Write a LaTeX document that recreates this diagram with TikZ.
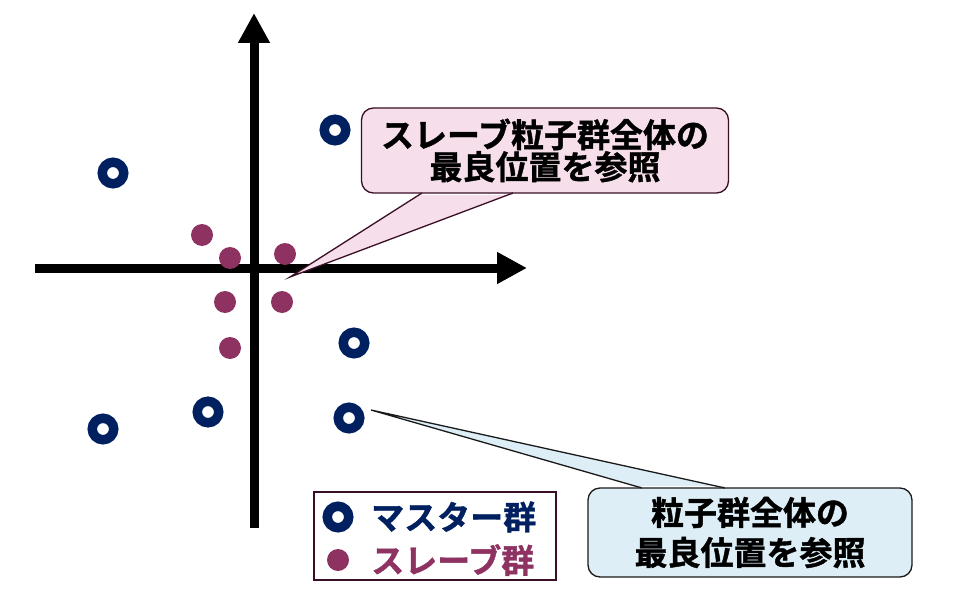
\documentclass[tikz,border=0pt]{standalone}
\usepackage{fontspec}
\newfontfamily\jp{Noto Sans CJK JP}[BoldFont={* Bold}, BoldFeatures={FakeBold=1.2}]
\usetikzlibrary{arrows.meta}
\definecolor{navy}{HTML}{002060}
\definecolor{maroon}{HTML}{8E3262}
\definecolor{pinkfill}{HTML}{F6DFEB}
\definecolor{pinkline}{HTML}{3A0F26}
\definecolor{bluefill}{HTML}{DEEEF6}
\definecolor{blueline}{HTML}{1A1A1A}
\tikzset{
  ring/.style={circle, draw=navy, line width=9.5pt, minimum size=21.5pt, inner sep=0pt},
  sdot/.style={circle, fill=maroon, minimum size=22pt, inner sep=0pt},
  axis/.style={line width=9pt, -{Triangle[length=30pt,width=30pt]}},
  jptext/.style={font=\jp\bfseries\fontsize{33pt}{33pt}\selectfont, align=center},
  callbox/.style={rounded corners=12pt, line width=1.3pt, inner sep=0pt, jptext},
}
\begin{document}
\begin{tikzpicture}[x=1pt,y=-1pt]
\useasboundingbox (0,0) rectangle (968,596);
% axes
\coordinate (xs) at (35,268);
\coordinate (xe) at (527,268);
\coordinate (ys) at (254,528);
\coordinate (ye) at (254,13);
\draw[axis] (xs) -- (xe);
\draw[axis] (ys) -- (ye);
% master rings
\node[ring] (m1) at (113,173) {};
\node[ring] (m2) at (335,130) {};
\node[ring] (m3) at (354,343) {};
\node[ring] (m4) at (208,412) {};
\node[ring] (m5) at (103,429) {};
\node[ring] (m6) at (349,418) {};
% slave dots
\node[sdot] (s1) at (202,235) {};
\node[sdot] (s2) at (230,258) {};
\node[sdot] (s3) at (285,254) {};
\node[sdot] (s4) at (225,302) {};
\node[sdot] (s5) at (282,302) {};
\node[sdot] (s6) at (230,348) {};
% pink callout
\node[callbox, fill=pinkfill, draw=pinkline, minimum width=367pt, minimum height=85pt,
      font=\jp\bfseries\fontsize{33pt}{32pt}\selectfont] (pc) at (545,150.5)
  {スレーブ粒子群全体の\\最良位置を参照};
\coordinate (pt) at (290,277);
\coordinate (pa) at (422,193);
\coordinate (pb) at (513,193);
\fill[pinkfill] (pt) -- (pa) -- ([yshift=-2pt]pa) -- ([yshift=-2pt]pb) -- (pb) -- cycle;
\draw[pinkline, line width=1.3pt] (pa) -- (pt) -- (pb);
% blue callout
\node[callbox, fill=bluefill, draw=blueline, minimum width=324pt, minimum height=89pt,
      font=\jp\bfseries\fontsize{33pt}{40pt}\selectfont] (bc) at (750,532.5)
  {粒子群全体の\\最良位置を参照};
\coordinate (bt) at (371,410);
\coordinate (ba) at (642,488);
\coordinate (bb) at (725,488);
\fill[bluefill] (bt) -- (ba) -- ([yshift=2pt]ba) -- ([yshift=2pt]bb) -- (bb) -- cycle;
\draw[blueline, line width=1.3pt] (ba) -- (bt) -- (bb);
% legend
\node[draw=pinkline, line width=1.5pt, minimum width=242pt, minimum height=88pt, inner sep=0pt] (leg) at (435,536) {};
\node[ring] (lr) at (338,517) {};
\node[sdot] (ld) at (338,560) {};
\node[jptext, anchor=west, text=navy, inner sep=0pt] (lt1) at (371,517) {マスター群};
\node[jptext, anchor=west, text=maroon, inner sep=0pt] (lt2) at (371,560) {スレーブ群};
\end{tikzpicture}
\end{document}
